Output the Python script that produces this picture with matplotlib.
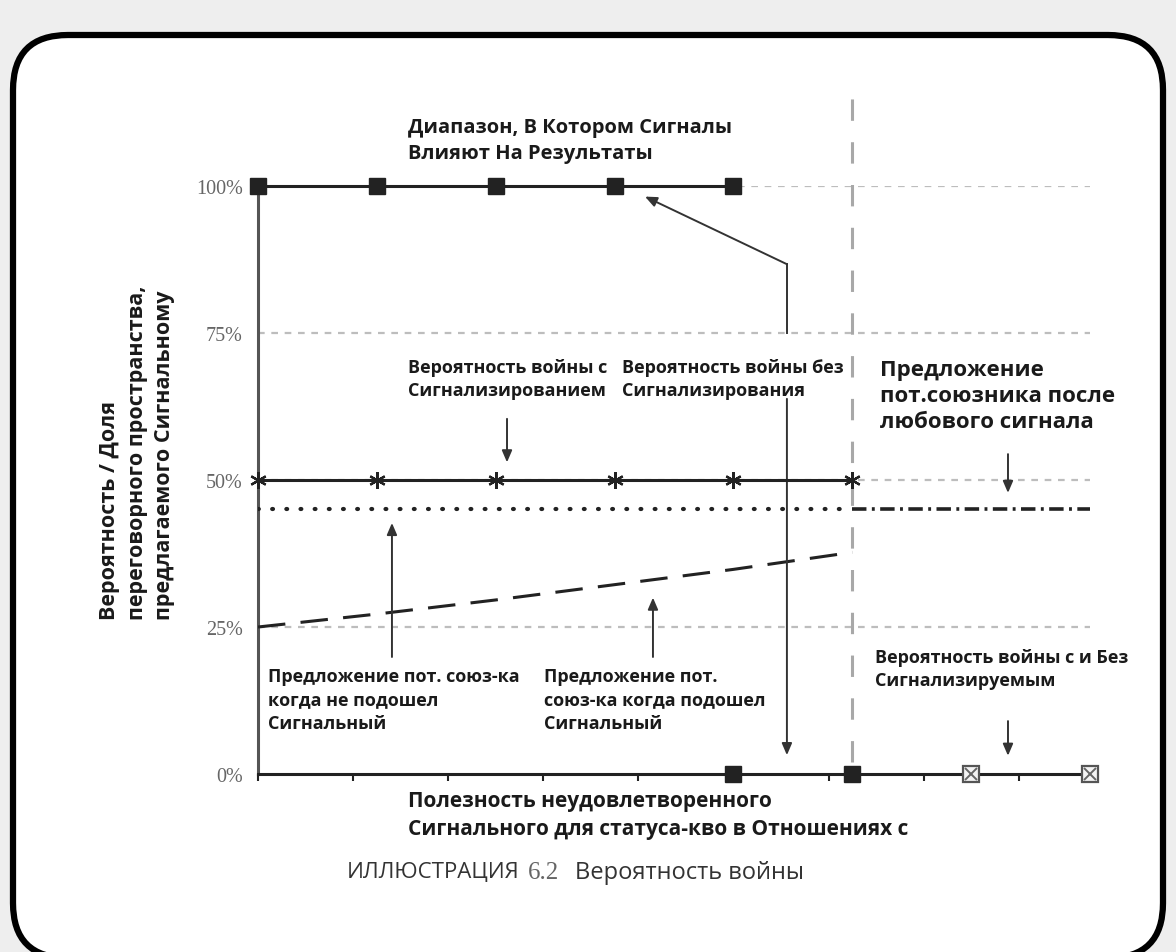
import numpy as np
import matplotlib
matplotlib.use("Agg")
import matplotlib.pyplot as plt
from matplotlib.patches import FancyBboxPatch

# ---------------------------
# Daten
# ---------------------------
x_range = [0, 1, 2, 3, 4]                 # Bereich, in dem Signale wirken
y_range = [1.0, 1.0, 1.0, 1.0, 1.0]

x_war_sig = [0, 1, 2, 3, 4, 5]            # Kriegswahrscheinlichkeit mit Signal
y_war_sig = [0.5, 0.5, 0.5, 0.5, 0.5, 0.5]

x_offer_nofit = [0, 5]                    # Angebot, wenn Signal nicht passt
y_offer_nofit = [0.45, 0.45]
x_offer_after = [5, 7]                    # Angebot nach beliebigem Signal
y_offer_after = [0.45, 0.45]

x_offer_fit = [0, 1, 2, 3, 4, 5]          # Angebot, wenn Signal passt
y_offer_fit = [0.25, 0.272, 0.296, 0.322, 0.348, 0.377]

x_zero_sq = [4, 5]                        # Krieg = 0
x_zero_box = [6, 7]
y_zero_sq = [0, 0]
y_zero_box = [0, 0]

y_ticks = [0, 0.25, 0.5, 0.75, 1.0]
y_ticklabels = ['0%', '25%', '50%', '75%', '100%']
x_cut = 5

W, H = 1176, 953
fig = plt.figure(figsize=(W / 100, H / 100), dpi=100)
fig.patch.set_facecolor('#eeeeee')

# Hintergrund mit abgerundetem Rahmen (Pixelkoordinaten)
bg = fig.add_axes([0, 0, 1, 1], zorder=-5)
bg.set_xlim(0, W)
bg.set_ylim(H, 0)
bg.axis('off')
bg.add_patch(FancyBboxPatch((13, 36), W - 26, H - 30, boxstyle="round,pad=0,rounding_size=55",
                            fc='white', ec='black', lw=4.5))

ax = fig.add_axes([258 / W, (H - 775) / H, 832 / W, 588 / H])
ax.set_facecolor('none')
ax.set_xlim(0, 7)
ax.set_ylim(0, 1)

# Raster
for yv in [0.25, 0.5, 0.75, 1.0]:
    ax.plot([0, 7], [yv, yv], color='#bdbdbd', lw=1.6, ls=(0, (3, 3)), zorder=1)

# Trennlinie
ax.plot([x_cut, x_cut], [0.02, 1.153], color='#a8a8a8', lw=2.2, ls=(0, (7, 7)),
        clip_on=False, zorder=1)

dark = '#222222'
ax.plot(x_range, y_range, color=dark, lw=2.2, marker='s', ms=11, clip_on=False, zorder=4)
ax.plot(x_war_sig, y_war_sig, color=dark, lw=2.2, marker=(6, 2, 0), ms=12, mew=1.6,
        clip_on=False, zorder=4)
ax.plot(x_offer_nofit, y_offer_nofit, color=dark, lw=3, ls=(0, (0.2, 3.2)),
        dash_capstyle='round', zorder=3)
ax.plot(x_offer_after, y_offer_after, color=dark, lw=2.6, ls=(0, (4, 1.5, 0.8, 1.5)),
        clip_on=False, zorder=3)
ax.plot(x_offer_fit, y_offer_fit, color=dark, lw=2.2, ls=(0, (9, 5)), zorder=3)
ax.plot(x_zero_sq, y_zero_sq, ls='none', color=dark, marker='s', ms=11, clip_on=False, zorder=5)
ax.plot(x_zero_box, y_zero_box, ls='none', marker='s', ms=11, mfc='#f4f4f4', mec='#555555',
        mew=1.6, clip_on=False, zorder=5)
ax.plot(x_zero_box, y_zero_box, ls='none', marker='x', ms=8, color='#666666', mew=1.4,
        clip_on=False, zorder=6)

# Achsen
for s in ['top', 'right']:
    ax.spines[s].set_visible(False)
ax.spines['left'].set_color('#555555')
ax.spines['left'].set_linewidth(2.2)
ax.spines['bottom'].set_color(dark)
ax.spines['bottom'].set_linewidth(2.2)
ax.set_yticks(y_ticks)
ax.set_yticklabels(y_ticklabels, family='Liberation Serif', fontsize=14.5, color='#666666')
ax.tick_params(axis='y', length=0, pad=11)
ax.set_xticks(np.arange(0, 7.01, 0.8))
ax.set_xticklabels([])
ax.tick_params(axis='x', length=5, width=1.5, direction='out', color=dark)

# Beschriftungen
fkw = dict(family='Open Sans', weight='bold', fontsize=13, color='#1a1a1a',
           va='top', ha='left', linespacing=1.4)
ax.text(1.26, 1.118, 'Диапазон, В Котором Сигналы\nВлияют На Результаты',
        family='Open Sans', weight='bold', fontsize=14.5, color='#1a1a1a',
        va='top', ha='left', linespacing=1.4)
ax.text(1.26, 0.708, 'Вероятность войны с\nСигнализированием', **fkw)
ax.text(3.06, 0.708, 'Вероятность войны без\nСигнализирования', **fkw)
ax.text(0.08, 0.182, 'Предложение пот. союз-ка\nкогда не подошел\nСигнальный', **fkw)
ax.text(2.41, 0.182, 'Предложение пот.\nсоюз-ка когда подошел\nСигнальный', **fkw)
ax.text(5.19, 0.215, 'Вероятность войны с и Без\nСигнализируемым', **fkw)
ax.text(5.23, 0.705, 'Предложение\nпот.союзника после\nлюбового сигнала',
        family='Open Sans', weight='bold', fontsize=16, color='#1a1a1a',
        va='top', ha='left', linespacing=1.3, clip_on=False)

# Pfeile
akw = dict(arrowstyle='-|>,head_length=0.7,head_width=0.3', color='#333333', lw=1.4,
           shrinkA=0, shrinkB=0)
for (x0, y0, x1, y1) in [(2.095, 0.604, 2.095, 0.530),
                         (6.31, 0.544, 6.31, 0.478),
                         (1.127, 0.199, 1.127, 0.427),
                         (3.323, 0.199, 3.323, 0.300),
                         (6.31, 0.090, 6.31, 0.031),
                         (4.45, 0.867, 3.256, 0.982),
                         (4.45, 0.638, 4.45, 0.032)]:
    ax.annotate('', xy=(x1, y1), xytext=(x0, y0), arrowprops=akw, annotation_clip=False)
ax.plot([4.45, 4.45], [0.867, 0.75], color='#333333', lw=1.4)

# Achsentitel
fig.text(137 / W, (H - 620) / H,
         'Вероятность / Доля\nпереговорного пространства,\nпредлагаемого Сигнальному',
         rotation=90, ha='center', va='bottom', multialignment='left',
         family='Open Sans', weight='bold', fontsize=15.5, color='#1a1a1a', linespacing=1.4)
fig.text(408 / W, (H - 791) / H,
         'Полезность неудовлетворенного\nСигнального для статуса-кво в Отношениях с',
         ha='left', va='top', family='Open Sans', weight='bold', fontsize=15,
         color='#1a1a1a', linespacing=1.45)
fig.text(347 / W, (H - 873) / H, 'ИЛЛЮСТРАЦИЯ', ha='left', va='center',
         family='Open Sans', fontsize=16, color='#333333')
fig.text(528 / W, (H - 873) / H, '6.2', ha='left', va='center',
         family='Liberation Serif', fontsize=18, color='#666666')
fig.text(575 / W, (H - 873) / H, 'Вероятность войны', ha='left', va='center',
         family='Open Sans', fontsize=17, color='#333333')

plt.savefig('out.png', dpi=100)
